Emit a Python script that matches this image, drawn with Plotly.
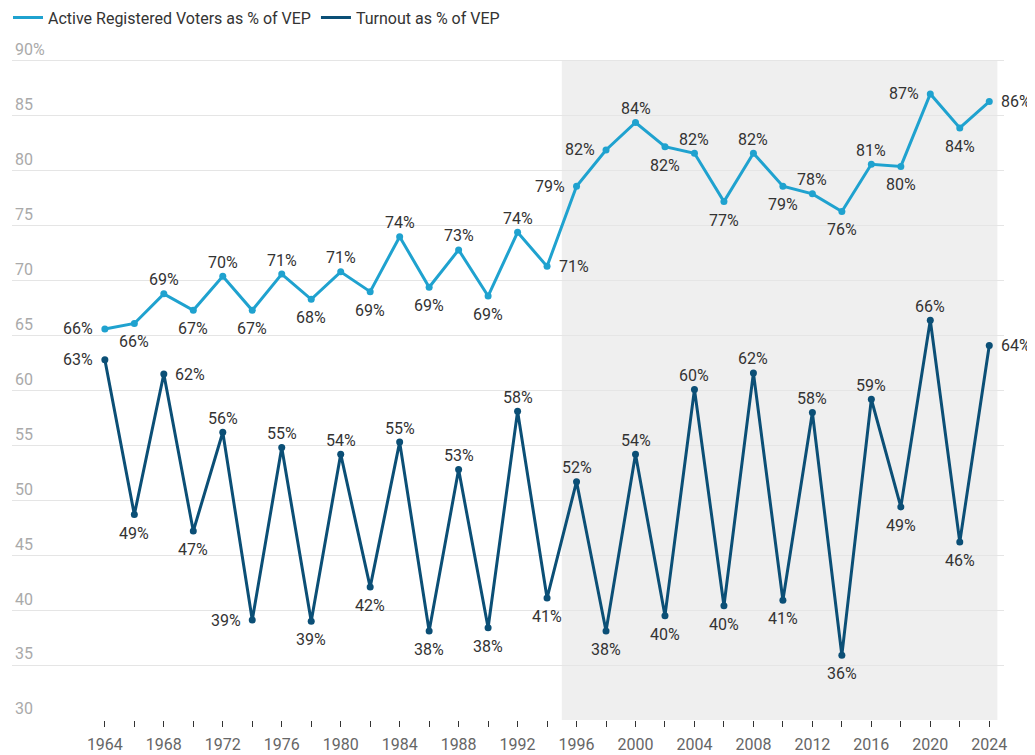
import plotly.graph_objects as go

# ---- data ----
years = list(range(1964, 2025, 2))
active_registered = [65.6, 66.1, 68.8, 67.3, 70.4, 67.3, 70.6, 68.3, 70.8, 69.0,
                     74.0, 69.4, 72.8, 68.6, 74.4, 71.3, 78.6, 81.9, 84.4, 82.2,
                     81.6, 77.2, 81.6, 78.6, 77.9, 76.3, 80.6, 80.4, 87.0, 83.9, 86.3]
turnout = [62.8, 48.7, 61.5, 47.2, 56.2, 39.1, 54.8, 39.0, 54.2, 42.1,
           55.3, 38.1, 52.8, 38.4, 58.1, 41.1, 51.7, 38.1, 54.2, 39.5,
           60.1, 40.4, 61.6, 40.9, 58.0, 35.9, 59.2, 49.4, 66.4, 46.2, 64.1]
x_label_years = list(range(1964, 2025, 4))
y_ticks = [30, 35, 40, 45, 50, 55, 60, 65, 70, 75, 80, 85, 90]
y_tick_labels = ["30", "35", "40", "45", "50", "55", "60", "65", "70", "75", "80", "85", "90%"]
shade_start, shade_end = 1995, 2024.55
series_names = ["Active Registered Voters as % of VEP", "Turnout as % of VEP"]

# ---- style ----
LIGHT = "#1fa2cf"
DARK = "#0b4f76"
FONT = "Roboto"

TC, BC, ML, MR = "top", "bottom", "left", "right"
active_pos = [ML, BC, TC, BC, TC, BC, TC, BC, TC, BC, TC, BC, TC, BC, TC, MR,
              ML, ML, TC, BC, TC, BC, TC, BC, TC, BC, TC, BC, ML, BC, MR]
turnout_pos = [ML, BC, MR, BC, TC, ML, TC, BC, TC, BC, TC, BC, TC, BC, TC, BC,
               TC, BC, TC, BC, TC, BC, TC, BC, TC, BC, TC, BC, TC, BC, MR]
# (xanchor, yanchor, xshift, yshift)
POS = {
    TC: ("center", "middle", 0, 14),
    BC: ("center", "middle", 0, -18.5),
    ML: ("right", "middle", -9.5, 0),
    MR: ("left", "middle", 9.5, 0),
}


def lab(v):
    return f"{int(v + 0.5)}%"


fig = go.Figure()

for vals, color, name in [(active_registered, LIGHT, series_names[0]),
                          (turnout, DARK, series_names[1])]:
    fig.add_trace(go.Scatter(
        x=years, y=vals, mode="lines+markers",
        line=dict(color=color, width=3), marker=dict(color=color, size=7),
        cliponaxis=False, showlegend=False, name=name, hoverinfo="x+y"))

# legend-only entries (line symbol only)
for color, name in [(LIGHT, series_names[0]), (DARK, series_names[1])]:
    fig.add_trace(go.Scatter(x=[None], y=[None], mode="lines",
                             line=dict(color=color, width=3), name=name))

annotations = []
for vals, poss in [(active_registered, active_pos), (turnout, turnout_pos)]:
    for xv, yv, p in zip(years, vals, poss):
        xa, ya, xs, ys = POS[p]
        annotations.append(dict(
            x=xv, y=yv, xref="x", yref="y", text=lab(yv), showarrow=False,
            xanchor=xa, yanchor=ya, xshift=xs, yshift=ys,
            font=dict(family=FONT, size=16, color="#333333")))

fig.add_shape(type="rect", xref="x", yref="y", x0=shade_start, x1=shade_end,
              y0=30, y1=90, fillcolor="#efefef", line=dict(width=0), layer="below")

# page body has an 8px default margin; figure sized to fill the rest of the window
fig.update_layout(
    width=1027, height=747,
    margin=dict(l=4, r=31, t=30.7, b=35, autoexpand=False),
    paper_bgcolor="white", plot_bgcolor="rgba(0,0,0,0)",
    font=dict(family=FONT, color="#333333"),
    annotations=annotations,
    legend=dict(orientation="h", xref="container", yref="container",
                x=0.0, y=0.9873, xanchor="left", yanchor="middle",
                font=dict(family=FONT, size=16, color="#333333"),
                itemwidth=30, tracegroupgap=0, bgcolor="rgba(0,0,0,0)"),
    xaxis=dict(range=[1957.7, 2025.0], tickmode="array", tickvals=x_label_years,
               ticktext=[str(y) for y in x_label_years],
               ticks="outside", ticklen=6, tickwidth=1, tickcolor="#333333",
               minor=dict(tickmode="array", tickvals=years, ticks="outside",
                          ticklen=6, tickwidth=1, tickcolor="#333333", showgrid=False),
               showgrid=False, zeroline=False, showline=False, automargin=False,
               tickfont=dict(family=FONT, size=16, color="#666666"),
               ticklabelstandoff=4, fixedrange=True),
    yaxis=dict(range=[30, 92], tickmode="array", tickvals=y_ticks, ticktext=y_tick_labels,
               ticklabelposition="inside top", showgrid=True, gridcolor="#e5e5e5",
               gridwidth=1, zeroline=False, showline=False, ticks="", automargin=False,
               tickfont=dict(family=FONT, size=16, color="#aaaaaa"), fixedrange=True),
)

fig.write_html("out.html")
